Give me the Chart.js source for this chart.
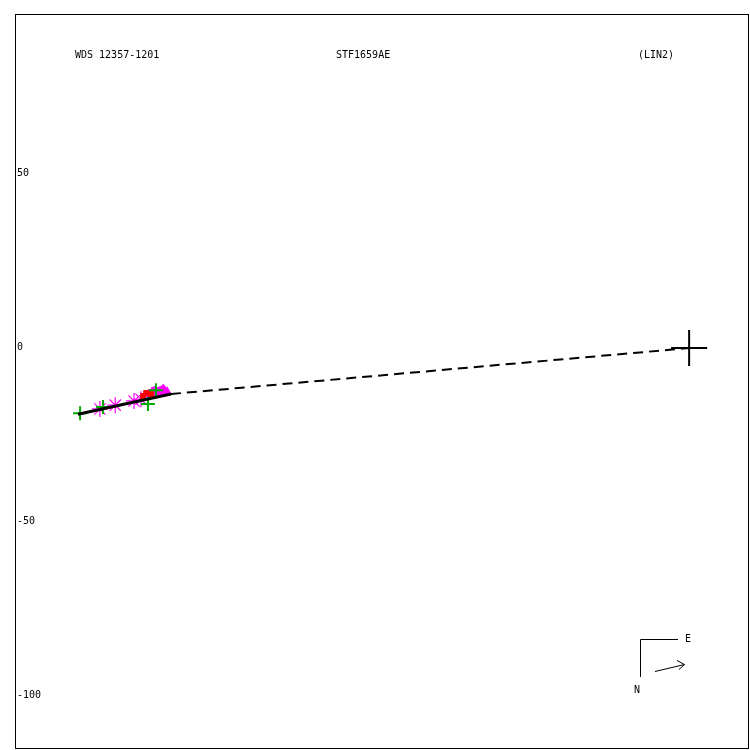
<!DOCTYPE html>
<html>
<head>
<meta charset="utf-8">
<script src="https://cdn.jsdelivr.net/npm/chart.js@4.4.1/dist/chart.umd.min.js"></script>
<style>
html,body{margin:0;padding:0;background:#fff;}
#wrap{width:750px;height:750px;}
</style>
</head>
<body>
<div id="wrap"><canvas id="c" width="750" height="750"></canvas></div>
<script>
// ---- data (arcsec-like units, primary at origin) ----
const titleLeft = "WDS 12357-1201";
const titleMid = "STF1659AE";
const titleRight = "(LIN2)";
const yTicks = [-100, -50, 0, 50];
const xRange = [-193.7, 17.2];
const yRange = [-115.2, 95.7];

const primary = [{x: 0, y: 0}];
const greenPlus = [
  {x: -175.0, y: -18.7},
  {x: -168.4, y: -16.9},
  {x: -155.5, y: -16.1},
  {x: -153.2, y: -12.1}
];
const magentaStars = [
  {x: -169.3, y: -17.5},
  {x: -164.9, y: -16.4},
  {x: -159.5, y: -15.2},
  {x: -157.5, y: -14.7}
];
const redSquares = [
  {x: -156.9, y: -13.8},
  {x: -156.0, y: -12.9},
  {x: -154.6, y: -13.2}
];
const magentaTriangles = [
  {x: -155.2, y: -13.2},
  {x: -154.3, y: -12.6},
  {x: -153.7, y: -12.4},
  {x: -153.2, y: -12.9},
  {x: -152.6, y: -12.6},
  {x: -152.0, y: -12.4},
  {x: -151.4, y: -12.1},
  {x: -151.1, y: -11.8},
  {x: -150.6, y: -12.4},
  {x: -150.0, y: -12.6}
];
const fitLine = [
  {x: -175.6, y: -19.0},
  {x: -148.9, y: -13.2}
];
const dashLine = [
  {x: -148.9, y: -13.2},
  {x: 0, y: 0}
];

const FONT = "'DejaVu Sans Mono', 'Liberation Mono', monospace";

const decor = {
  id: 'decor',
  afterDraw(chart) {
    const ctx = chart.ctx;
    const a = chart.chartArea;
    const ys = chart.scales.y;
    ctx.save();
    ctx.strokeStyle = '#000';
    ctx.lineWidth = 1;
    ctx.strokeRect(a.left + 0.5, a.top - 0.5, a.right - a.left - 1, a.bottom - a.top);
    ctx.fillStyle = '#000';
    ctx.font = '10px ' + FONT;
    ctx.textBaseline = 'middle';
    ctx.textAlign = 'left';
    // y tick labels, placed by the y scale
    yTicks.forEach(v => ctx.fillText(String(v), a.left + 2, ys.getPixelForValue(v) - 1));
    ctx.fillText(titleLeft, 75, 55);
    ctx.fillText(titleMid, 336, 55);
    ctx.fillText(titleRight, 638, 55);
    // compass
    ctx.beginPath();
    ctx.moveTo(640.5, 677);
    ctx.lineTo(640.5, 639.5);
    ctx.lineTo(678, 639.5);
    ctx.stroke();
    ctx.fillText('E', 685, 639);
    ctx.fillText('N', 634, 690);
    ctx.beginPath();
    ctx.moveTo(655, 671.5);
    ctx.lineTo(684.5, 664.5);
    ctx.moveTo(677, 660.5);
    ctx.lineTo(684.5, 664.5);
    ctx.lineTo(679, 669.5);
    ctx.stroke();
    ctx.restore();
  }
};

new Chart(document.getElementById('c'), {
  type: 'scatter',
  data: {
    datasets: [
      {data: fitLine, showLine: true, borderColor: '#000', borderWidth: 3, pointRadius: 0, order: 0},
      {data: dashLine, showLine: true, borderColor: '#000', borderWidth: 2, borderDash: [10, 6], pointRadius: 0, order: 1},
      {data: primary, pointStyle: 'crossRot', rotation: 45, pointRadius: 18, borderColor: '#000', borderWidth: 2, order: 2},
      {data: greenPlus, pointStyle: 'cross', pointRadius: 7, borderColor: '#00aa00', borderWidth: 2, order: 3},
      {data: redSquares, pointStyle: 'rect', pointRadius: 3.5, backgroundColor: '#ff0000', borderColor: '#ff0000', borderWidth: 1, order: 4},
      {data: magentaTriangles, pointStyle: 'triangle', pointRadius: 5, backgroundColor: '#ff00ff', borderColor: '#ff00ff', borderWidth: 1, order: 5},
      {data: magentaStars, pointStyle: 'star', pointRadius: 8, borderColor: '#ff00ff', backgroundColor: '#ff00ff', borderWidth: 1.2, order: 6}
    ]
  },
  options: {
    responsive: false,
    animation: false,
    layout: {autoPadding: false, padding: {left: 15, top: 15, right: 1, bottom: 1}},
    plugins: {legend: {display: false}, tooltip: {enabled: false}},
    scales: {
      x: {type: 'linear', min: xRange[0], max: xRange[1], display: false},
      y: {type: 'linear', min: yRange[0], max: yRange[1], display: false}
    }
  },
  plugins: [decor]
});
</script>
</body>
</html>
